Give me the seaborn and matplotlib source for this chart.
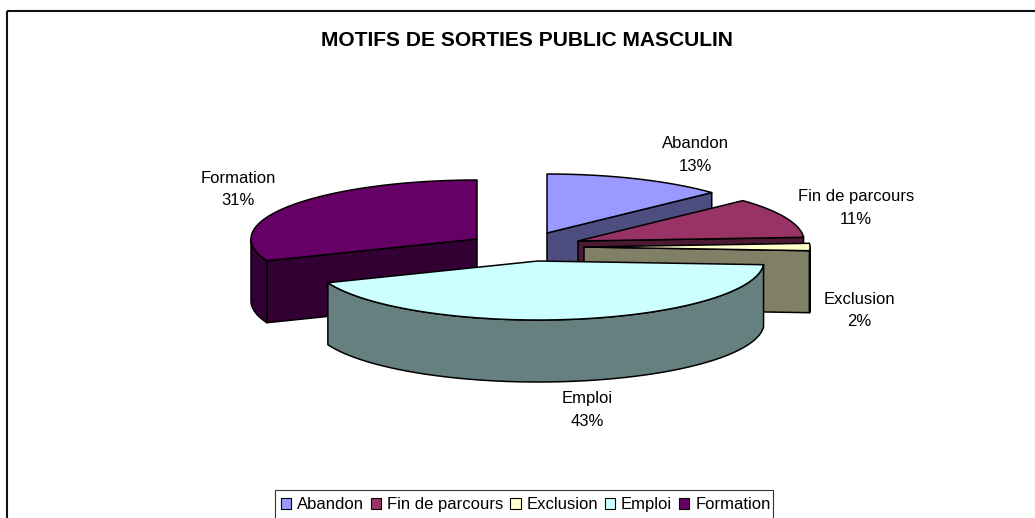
"""
Exploded pseudo 3D pie of the exit reasons for the male public.
"""

import numpy as np
import seaborn as sns
import matplotlib.pyplot as plt
from matplotlib.patches import Patch, Rectangle

# Data
categories = ['Abandon', 'Fin de parcours', 'Exclusion', 'Emploi', 'Formation']
shares = [13, 11, 2, 43, 31]
colors = ['#9999FF', '#993366', '#FFFFCC', '#CCFFFF', '#660066']
title = 'MOTIFS DE SORTIES PUBLIC MASCULIN'

# Layout, in pixels of the 1035x518 picture
apex_x = [547, 578, 584, 538, 477]
apex_y = [233, 241, 247, 261, 239]
label_x = [695, 856, 859, 587, 238]
label_y = [155, 208, 310.5, 410, 189.5]
RADIUS_X = 226
RADIUS_Y = 59
DEPTH = 62
DRAW_ORDER = [0, 1, 2, 4, 3]

sns.set_theme(style='white')
plt.rcParams['font.family'] = ['Liberation Sans', 'DejaVu Sans']
palette = sns.color_palette(colors)

fig = plt.figure(figsize=(10.35, 5.18), dpi=100)
ax = fig.add_axes([0, 0, 1, 1])
ax.set_xlim(0, 1035)
ax.set_ylim(518, 0)
ax.axis('off')


def rim(i, start, end):
    # angles in degrees, clockwise from twelve o'clock
    t = np.radians(np.linspace(start, end, max(2, int(abs(end - start)) + 2)))
    return apex_x[i] + RADIUS_X * np.sin(t), apex_y[i] - RADIUS_Y * np.cos(t)


def face(x, y, color):
    ax.fill(x, y, facecolor=color, edgecolor='black', linewidth=1.1, joinstyle='round')


def radial_face(i, angle, color):
    x, y = rim(i, angle, angle)
    px, py = [apex_x[i], x[0]], [apex_y[i], y[0]]
    face(px + px[::-1], py + [v + DEPTH for v in py[::-1]], color)


# Angles of each slice
edges = np.concatenate([[0], np.cumsum(shares)]) / sum(shares) * 360
starts, ends = edges[:-1], edges[1:]

for i in DRAW_ORDER:
    top = palette[i]
    side = tuple(c * 0.5 for c in top)
    if ends[i] < 180:
        radial_face(i, ends[i], side)
    if starts[i] > 180:
        radial_face(i, starts[i], side)
    lo, hi = max(starts[i], 90), min(ends[i], 270)
    if lo < hi:
        x, y = rim(i, lo, hi)
        face(np.r_[x, x[::-1]], np.r_[y, y[::-1] + DEPTH], side)
    x, y = rim(i, starts[i], ends[i])
    face(np.r_[apex_x[i], x], np.r_[apex_y[i], y], top)

for name, share, x, y in zip(categories, shares, label_x, label_y):
    ax.text(x, y, f'{name}\n{share}%', ha='center', va='center', fontsize=12,
            color='black', linespacing=1.65)

ax.text(526.5, 40.5, title, ha='center', va='center', fontsize=15.1, fontweight='bold',
        color='black')

# Chart frame, cut by the right and bottom of the picture
ax.add_patch(Rectangle((6.5, 10.5), 1100, 600, fill=False, edgecolor='#111111',
                       linewidth=1.5))

# Legend box, also cut by the bottom of the picture
ax.add_patch(Rectangle((275, 490), 498, 40, facecolor='white', edgecolor='#333333',
                       linewidth=0.8))
handles = [Patch(facecolor=c, edgecolor='black', linewidth=0.8) for c in palette]
legend = ax.legend(handles, categories, ncol=5, loc='upper left',
                   bbox_to_anchor=(281, 497.4), bbox_transform=ax.transData,
                   borderaxespad=0, borderpad=0, fontsize=12, frameon=False,
                   handlelength=0.62, handleheight=0.62, handletextpad=0.35,
                   columnspacing=0.41, labelcolor='black')

plt.savefig('out.png', dpi=100)
